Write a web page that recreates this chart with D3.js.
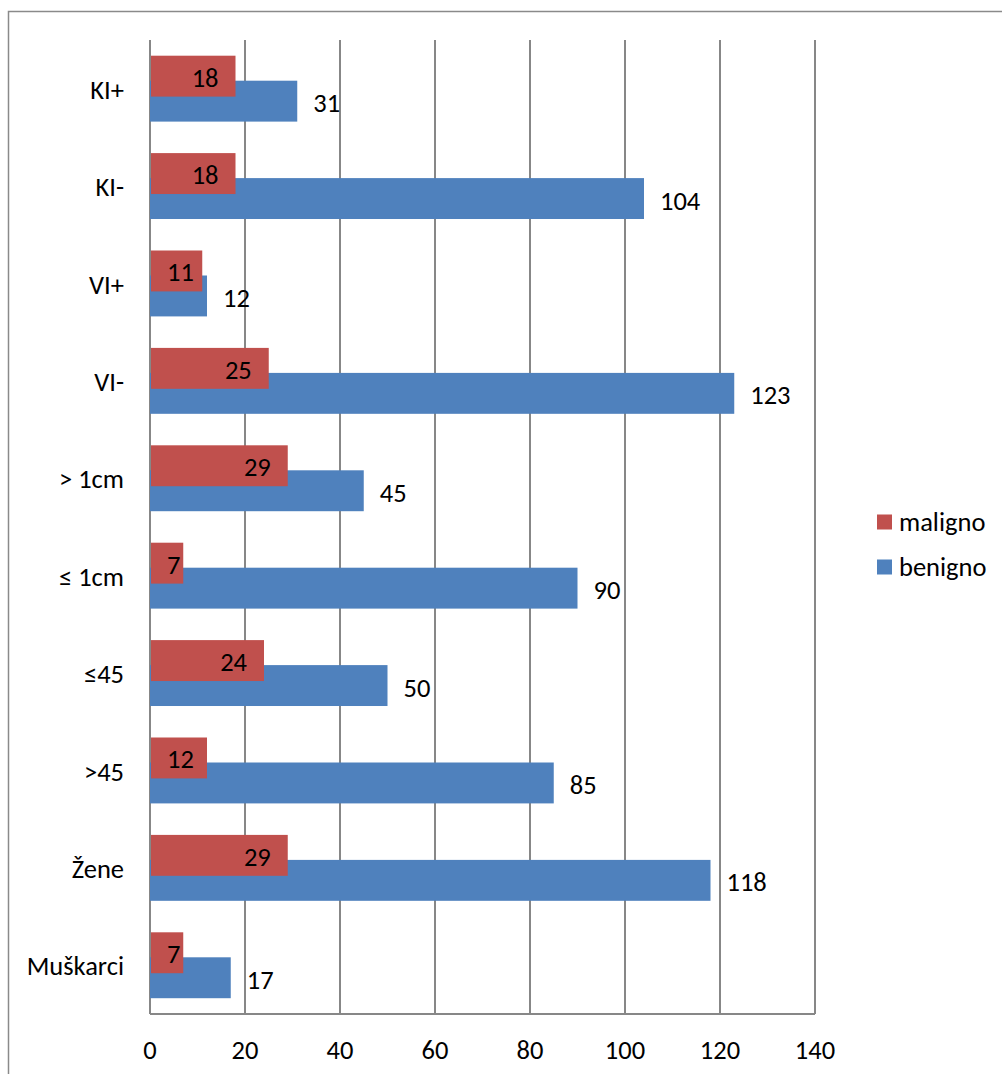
<!DOCTYPE html>
<html>
<head>
<meta charset="utf-8">
<script src="https://cdn.jsdelivr.net/npm/d3@7"></script>
<style>
  html, body { margin: 0; padding: 0; background: #fff; }
  svg { display: block; }
  text { font-family: Carlito, Lato, "Open Sans", sans-serif; fill: #000; }
</style>
</head>
<body>
<svg id="chart" width="1002" height="1074"></svg>
<script>
// Categories, top to bottom
const categories = ["KI+", "KI-", "VI+", "VI-", "> 1cm", "≤ 1cm", "≤45", ">45", "Žene", "Muškarci"];
// Series values
const maligno = [18, 18, 11, 25, 29, 7, 24, 12, 29, 7];
const benigno = [31, 104, 12, 123, 45, 90, 50, 85, 118, 17];
// Axis ticks
const xTicks = [0, 20, 40, 60, 80, 100, 120, 140];
const seriesNames = ["maligno", "benigno"];
const seriesColors = ["#C0504D", "#4F81BD"];

const svg = d3.select("#chart");
const plot = { left: 150, right: 815, top: 40, bottom: 1014 };
const gridColor = "#878787";
const fs = 26.5;

// chart frame: top and left edges
svg.append("path")
  .attr("d", "M8.5,1074 L8.5,11.5 L1002,11.5")
  .attr("fill", "none").attr("stroke", "#8a8a8a").attr("stroke-width", 1.5);

const x = d3.scaleLinear().domain([0, 140]).range([plot.left, plot.right]);
const y = d3.scaleBand().domain(categories).range([plot.top, plot.bottom]).paddingInner(0).paddingOuter(0);

// vertical gridlines
svg.append("g").selectAll("line")
  .data(xTicks)
  .join("line")
  .attr("x1", d => x(d)).attr("x2", d => x(d))
  .attr("y1", plot.top).attr("y2", plot.bottom)
  .attr("stroke", gridColor).attr("stroke-width", 2);

// bottom axis line
svg.append("line")
  .attr("x1", plot.left).attr("x2", plot.right)
  .attr("y1", plot.bottom).attr("y2", plot.bottom)
  .attr("stroke", gridColor).attr("stroke-width", 2);

// x tick labels
svg.append("g").selectAll("text")
  .data(xTicks)
  .join("text")
  .attr("x", d => x(d)).attr("y", 1050)
  .attr("text-anchor", "middle").attr("dominant-baseline", "central")
  .attr("font-size", fs)
  .text(d => d);

// category labels
svg.append("g").selectAll("text")
  .data(categories)
  .join("text")
  .attr("x", 124).attr("y", d => y(d) + y.bandwidth() / 2 + 1)
  .attr("text-anchor", "end").attr("dominant-baseline", "central")
  .attr("font-size", fs)
  .text(d => d);

const barH = y.bandwidth() * 0.42;
const redOff = -33, blueOff = -8;

// benigno bars (behind)
svg.append("g").selectAll("rect")
  .data(benigno)
  .join("rect")
  .attr("x", x(0))
  .attr("y", (d, i) => y(categories[i]) + y.bandwidth() / 2 + blueOff)
  .attr("width", d => x(d) - x(0))
  .attr("height", barH)
  .attr("fill", seriesColors[1]);

// maligno bars (in front)
svg.append("g").selectAll("rect")
  .data(maligno)
  .join("rect")
  .attr("x", x(0) + 1)
  .attr("y", (d, i) => y(categories[i]) + y.bandwidth() / 2 + redOff)
  .attr("width", d => x(d) - x(0) - 1)
  .attr("height", barH)
  .attr("fill", seriesColors[0]);

// benigno value labels, outside the bar end
svg.append("g").selectAll("text")
  .data(benigno)
  .join("text")
  .attr("x", d => x(d) + 16)
  .attr("y", (d, i) => y(categories[i]) + y.bandwidth() / 2 + blueOff + barH / 2 + 2)
  .attr("dominant-baseline", "central")
  .attr("font-size", fs)
  .text(d => d);

// maligno value labels, inside the bar end
svg.append("g").selectAll("text")
  .data(maligno)
  .join("text")
  .attr("y", (d, i) => y(categories[i]) + y.bandwidth() / 2 + redOff + barH / 2 + 1.5)
  .attr("dominant-baseline", "central")
  .attr("font-size", fs)
  .text(d => d)
  .each(function(d) {
    const w = this.getComputedTextLength();
    const left = Math.max(x(d) - 17 - w, x(0) + 17);
    d3.select(this).attr("x", left);
  });

// legend
const legend = svg.append("g");
seriesNames.forEach((name, i) => {
  const ly = 522 + i * 45;
  legend.append("rect")
    .attr("x", 877).attr("y", ly - 7.5)
    .attr("width", 15).attr("height", 15)
    .attr("fill", seriesColors[i]);
  legend.append("text")
    .attr("x", 899).attr("y", ly)
    .attr("dominant-baseline", "central")
    .attr("font-size", fs)
    .text(name);
});
</script>
</body>
</html>
